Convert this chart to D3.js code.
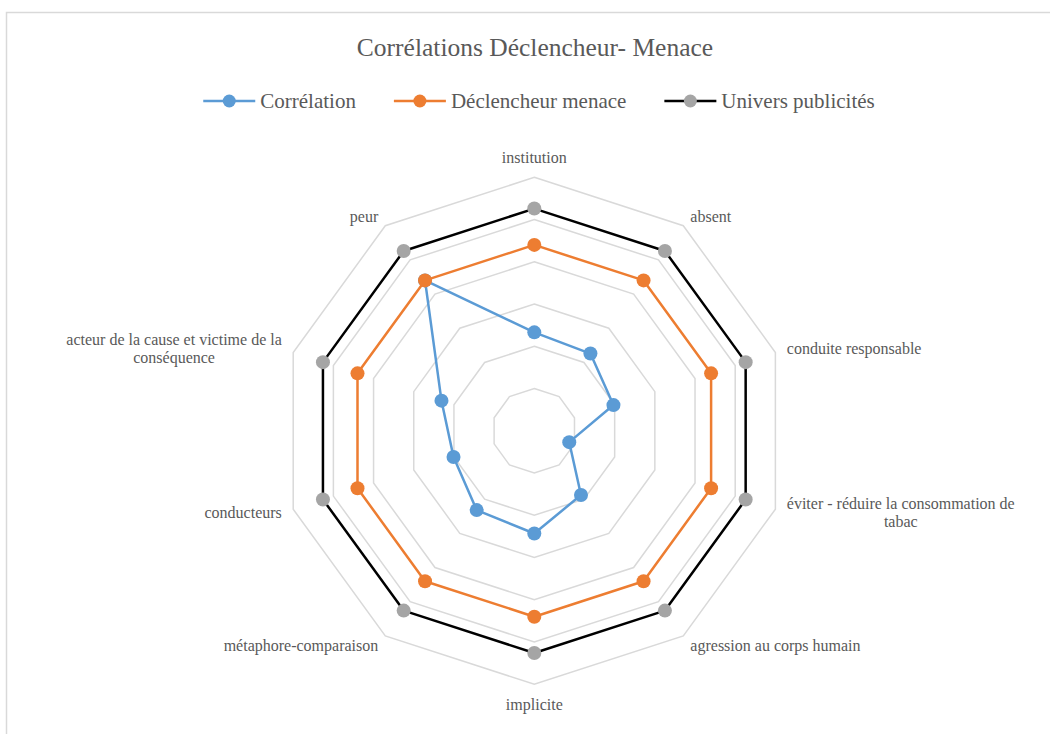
<!DOCTYPE html>
<html><head><meta charset="utf-8">
<script src="https://cdn.jsdelivr.net/npm/d3@7"></script>
<style>
body{margin:0;background:#fff;}
svg text{font-family:"Liberation Serif","Times New Roman",serif;fill:#595959;}
</style>
</head><body>
<svg id="c" width="1050" height="734"></svg>
<script>
const categories = ["institution","absent","conduite responsable","éviter - réduire la consommation de tabac","agression au corps humain","implicite","métaphore-comparaison","conducteurs","acteur de la cause et victime de la conséquence","peur"];
const seriesNames = ["Corrélation","Déclencheur menace","Univers publicités"];
const correlation = [23.3,22.6,19.7,8.7,18.8,24.3,23.2,20.1,23.1,44];
const declencheur = [44,44,44,44,44,44,44,44,44,44];
const univers = [52.6,52.6,52.6,52.6,52.6,52.6,52.6,52.6,52.6,52.6];
const gridTicks = [10,20,30,40,50,60];
const title = "Corrélations Déclencheur- Menace";

const lineColors = ["#5b9bd5","#ed7d31","#000000"];
const markerColors = ["#5b9bd5","#ed7d31","#a5a5a5"];
const seriesValues = [correlation, declencheur, univers];

const svg = d3.select("#c");
const cx = 534.3, cy = 430.8, R = 253.5;

svg.append("rect").attr("x",6.5).attr("y",12.5).attr("width",1100).attr("height",800)
  .attr("fill","#fff").attr("stroke","#d9d9d9").attr("stroke-width",1.5);

const r = d3.scaleLinear().domain([0,60]).range([0,R]);
const ang = d3.scaleLinear().domain([0,categories.length]).range([0,2*Math.PI]);

const g = svg.append("g").attr("transform",`translate(${cx},${cy})`);

// grid
gridTicks.forEach(t=>{
  const ln = d3.lineRadial().angle((d,i)=>ang(i)).radius(()=>r(t)).curve(d3.curveLinearClosed);
  g.append("path").attr("d",ln(categories)).attr("fill","none").attr("stroke","#d9d9d9").attr("stroke-width",1.5);
});

// series
seriesValues.forEach((vals,s)=>{
  const ln = d3.lineRadial().angle((d,i)=>ang(i)).radius(d=>r(d)).curve(d3.curveLinearClosed);
  g.append("path").attr("d",ln(vals)).attr("fill","none").attr("stroke",lineColors[s]).attr("stroke-width",2.5).attr("stroke-linejoin","round");
  g.selectAll(null).data(vals).enter().append("circle")
    .attr("cx",(d,i)=>r(d)*Math.sin(ang(i)))
    .attr("cy",(d,i)=>-r(d)*Math.cos(ang(i)))
    .attr("r",7).attr("fill",markerColors[s]);
});

// axis labels
const fs = 16, lh = 18, maxW = 240;
const measurer = svg.append("text").style("font-size",fs+"px");
function tw(s){ measurer.text(s); return measurer.node().getComputedTextLength(); }
function wrap(s){
  const words = s.split(" "); const lines=[]; let cur="";
  words.forEach(w=>{ const t = cur? cur+" "+w : w; if(tw(t)>maxW && cur){lines.push(cur); cur=w;} else cur=t; });
  if(cur) lines.push(cur); return lines;
}
categories.forEach((c,i)=>{
  const a = ang(i), sn=Math.sin(a), cs=Math.cos(a);
  let rr = R+12;
  const mid = Math.abs(sn)<0.01;
  if(mid) rr += 8;
  const px = rr*sn, py = -rr*cs;
  const lines = wrap(c);
  const w = d3.max(lines, tw);
  let centerX = mid ? px : (sn>0 ? px + w/2 : px - w/2);
  lines.forEach((l,k)=>{
    g.append("text").attr("x",centerX).attr("y",py + (k-(lines.length-1)/2)*lh)
      .attr("dy","0.35em").attr("text-anchor","middle").style("font-size",fs+"px").text(l);
  });
});
measurer.remove();

// title
svg.append("text").attr("x",535).attr("y",56).attr("text-anchor","middle")
  .style("font-size","25.5px").text(title);

// legend
const lfs = 21, lineW = 52, gapT = 5, gapItem = 38, ly = 101;
const meas2 = svg.append("text").style("font-size",lfs+"px");
const widths = seriesNames.map(n=>{meas2.text(n); return meas2.node().getComputedTextLength();});
meas2.remove();
const total = d3.sum(widths) + seriesNames.length*(lineW+gapT) + gapItem*(seriesNames.length-1);
let x0 = 539 - total/2;
seriesNames.forEach((n,s)=>{
  const lg = svg.append("g").attr("transform",`translate(${x0},${ly})`);
  lg.append("line").attr("x1",0).attr("x2",lineW).attr("y1",0).attr("y2",0).attr("stroke",lineColors[s]).attr("stroke-width",2.5);
  lg.append("circle").attr("cx",lineW/2).attr("cy",0).attr("r",6.5).attr("fill",markerColors[s]);
  lg.append("text").attr("x",lineW+gapT).attr("y",0).attr("dy","0.35em").style("font-size",lfs+"px").text(n);
  x0 += lineW+gapT+widths[s]+gapItem;
});
</script>
</body></html>
